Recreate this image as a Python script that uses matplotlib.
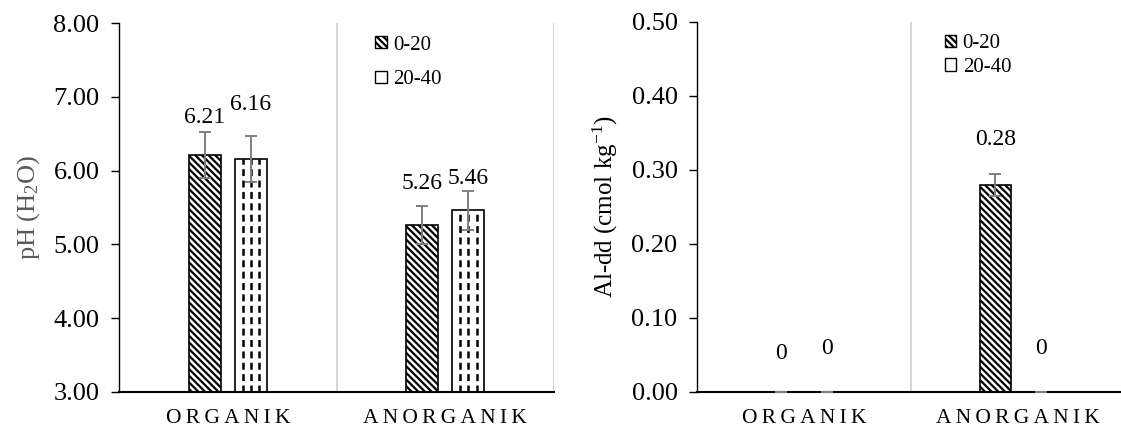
import numpy as np
import matplotlib
matplotlib.use("Agg")
import matplotlib.pyplot as plt
from matplotlib.patches import Patch

plt.rcParams['font.family'] = ['Liberation Serif', 'DejaVu Serif']
plt.rcParams['mathtext.fontset'] = 'custom'
plt.rcParams['mathtext.rm'] = 'Liberation Serif'
plt.rcParams['mathtext.it'] = 'Liberation Serif:italic'
plt.rcParams['hatch.linewidth'] = 1.6
plt.rcParams['lines.scale_dashes'] = False

categories = ["ORGANIK", "ANORGANIK"]
depths = ["0-20", "20-40"]

ph_0_20 = [6.21, 5.26]
ph_20_40 = [6.16, 5.46]
ph_err_0_20 = [0.31, 0.26]
ph_err_20_40 = [0.31, 0.27]

al_0_20 = [0.0, 0.28]
al_20_40 = [0.0, 0.0]
al_err_0_20 = [0.0, 0.015]
al_err_20_40 = [0.0, 0.0]

ph_ticks = [3, 4, 5, 6, 7, 8]
al_ticks = [0.0, 0.1, 0.2, 0.3, 0.4, 0.5]

# label offsets (points above error bar top), per depth, per category
ph_lab_off = [[3, 9], [15, 1]]
al_lab_off = [[20, 17], [24, 24]]

fig = plt.figure(figsize=(11.21, 4.32), dpi=100)
fig.set_facecolor('white')
ax1 = fig.add_axes([0.1062, 0.0926, 0.388, 0.854])
ax2 = fig.add_axes([0.6218, 0.0926, 0.3818, 0.8565])

width = 0.147
offset = 0.106
err_col = '#7f7f7f'
sep_col = '#d9d9d9'
hatch1 = '\\\\\\\\\\'


def fmt_val(v, dec):
    return "0" if v == 0 else f"{v:.{dec}f}"


def draw(ax, s1, s2, e1, e2, ymin, ymax, ticks, dec_tick, dec_lab, offs):
    x = np.arange(len(categories))
    ax.set_xlim(-0.5, len(categories) - 0.5)
    ax.set_ylim(ymin, ymax)
    for xs in np.arange(-0.5, len(categories), 1.0)[1:]:
        ax.axvline(xs, color=sep_col, lw=1.5, zorder=0)
    ax.bar(x - offset, s1, width, bottom=0, color='white', edgecolor='black',
           hatch=hatch1, linewidth=1.2, zorder=2)
    b2 = ax.bar(x + offset, s2, width, bottom=0, color='white', edgecolor='black',
                linewidth=1.2, zorder=2)
    # dashed vertical pattern for 20-40
    for rect, v in zip(b2, s2):
        if v <= ymin:
            continue
        for f in (0.25, 0.5, 0.76):
            xx = rect.get_x() + f * rect.get_width()
            ax.vlines(xx, ymin, v, colors='black', linewidth=1.8,
                      linestyles=(0, (5.0, 3.2)), zorder=3)
    ax.errorbar(x - offset, s1, yerr=e1, fmt='none', ecolor=err_col, elinewidth=1.4,
                capsize=4.3, capthick=1.4, zorder=4)
    ax.errorbar(x + offset, s2, yerr=e2, fmt='none', ecolor=err_col, elinewidth=1.4,
                capsize=4.3, capthick=1.4, zorder=4)
    for j, (vals, errs) in enumerate([(s1, e1), (s2, e2)]):
        sign = -1 if j == 0 else 1
        for i, (v, e) in enumerate(zip(vals, errs)):
            ax.annotate(fmt_val(v, dec_lab), (i + sign * offset, v + e),
                        xytext=(0, offs[j][i]), textcoords='offset points',
                        ha='center', va='bottom', fontsize=17)
    ax.set_yticks(ticks)
    ax.set_yticklabels([f"{t:.{dec_tick}f}" for t in ticks], fontsize=19)
    ax.set_xticks(x)
    ax.set_xticklabels(["\u2009".join(c) for c in categories], fontsize=15.5)
    ax.tick_params(axis='x', length=0, pad=12)
    ax.tick_params(axis='y', length=6, width=1.0, direction='out', pad=8)
    for sp in ['top', 'right']:
        ax.spines[sp].set_visible(False)
    ax.spines['left'].set_linewidth(1.0)
    ax.spines['bottom'].set_linewidth(1.5)
    ax.axvline(len(categories) - 0.5, color=sep_col, lw=1.5, zorder=0)
    handles = [Patch(facecolor='white', edgecolor='black', hatch=hatch1, label=depths[0]),
               Patch(facecolor='white', edgecolor='black', label=depths[1])]
    return handles


h = draw(ax1, ph_0_20, ph_20_40, ph_err_0_20, ph_err_20_40, 3, 8, ph_ticks, 2, 2, ph_lab_off)
ax1.set_ylabel("pH (H$_2$O)", fontsize=19, color='#595959', labelpad=8)
ax1.legend(handles=h, loc='upper left', bbox_to_anchor=(0.56, 1.0), frameon=False,
           fontsize=15, handlelength=0.55, handleheight=0.55, handletextpad=0.3,
           labelspacing=0.75, borderaxespad=0.2)

h = draw(ax2, al_0_20, al_20_40, al_err_0_20, al_err_20_40, 0, 0.5, al_ticks, 2, 2, al_lab_off)
ax2.set_ylabel("Al-dd (cmol kg$^{-1}$)", fontsize=18, labelpad=8)
ax2.legend(handles=h, loc='upper left', bbox_to_anchor=(0.55, 1.0), frameon=False,
           fontsize=15, handlelength=0.55, handleheight=0.55, handletextpad=0.3,
           labelspacing=0.2, borderaxespad=0.2)

fig.savefig("out.png", dpi=100, facecolor='white')
